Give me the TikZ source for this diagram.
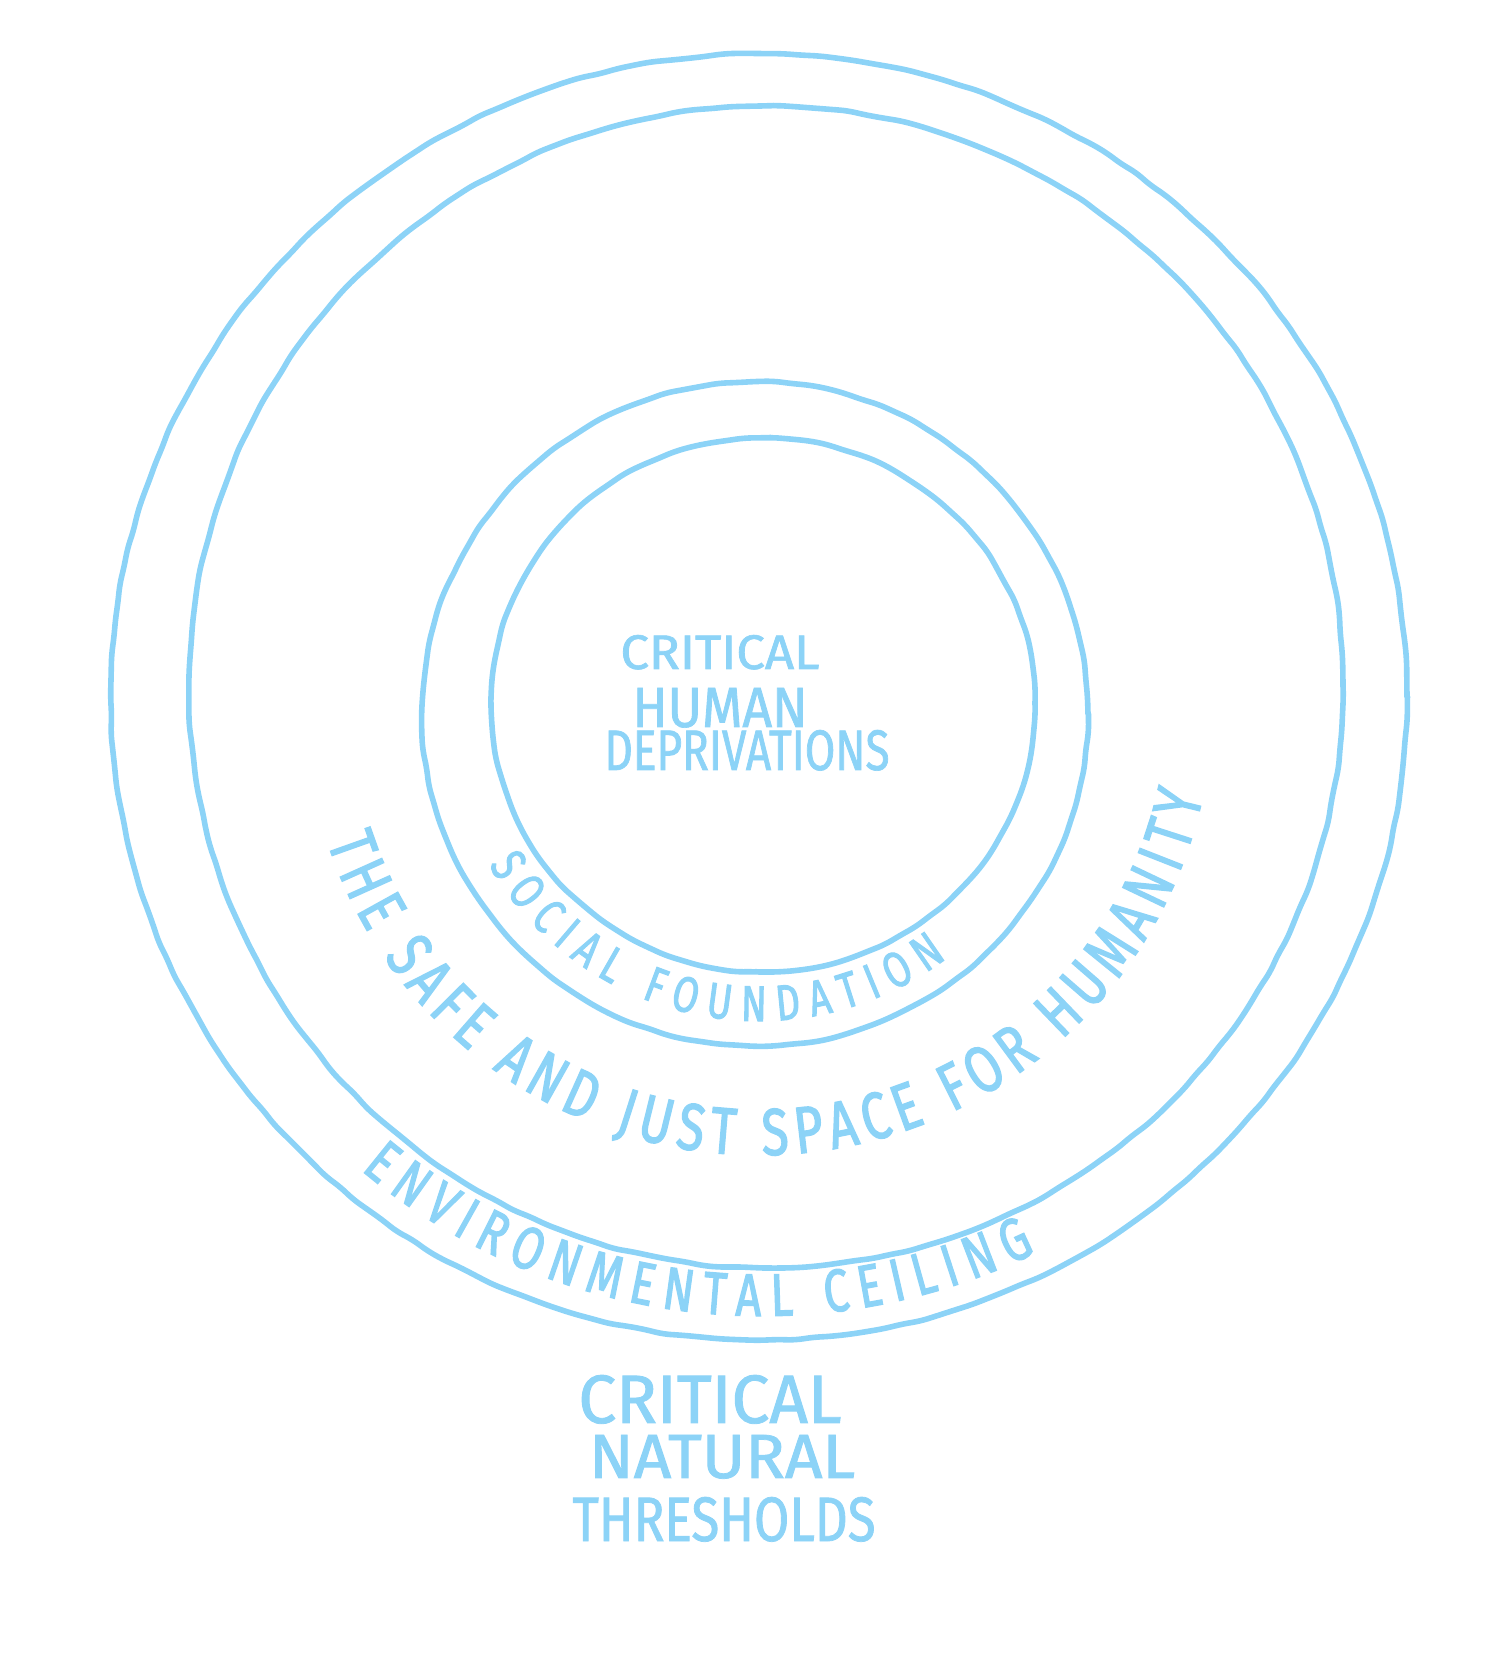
\documentclass[tikz,border=0pt]{standalone}
\usepackage{fontspec}
\usetikzlibrary{decorations.text,decorations.pathmorphing}
\newfontfamily\hand[FakeStretch=0.75,FakeBold=2]{Fira Sans}
\newfontfamily\handlight[FakeStretch=0.75,FakeBold=1.2]{Fira Sans}
\definecolor{sky}{RGB}{140,211,247}
\begin{document}
\begin{tikzpicture}[x=0.5pt,y=0.5pt,
  ring/.style={draw=sky, line width=2.8pt, line join=round, line cap=round,
    decorate, decoration={random steps, segment length=9pt, amplitude=0.45pt}, rounded corners=4pt},
  lbl/.style={text=sky, inner sep=0pt, anchor=base, font=\handlight}]
\useasboundingbox (0,0) rectangle (1500,1672);
\pgfmathsetseed{7}
% rings
\draw[ring] (759,975) ellipse [x radius=648, y radius=643];
\draw[ring] (766,985) ellipse [x radius=577, y radius=581];
\draw[ring] (755,958) ellipse [x radius=333, y radius=332];
\draw[ring] (763,967) ellipse [x radius=272, y radius=267];
% centre label
\node[lbl] (c1) at (720,1003) {\resizebox{99.5pt}{17pt}{CRITICAL}};
\node[lbl] (c2) at (720,945) {\resizebox{87.5pt}{19.5pt}{HUMAN}};
\node[lbl] (c3) at (747,902) {\resizebox{142.5pt}{20pt}{DEPRIVATIONS}};
% bottom label
\node[lbl] (b1) at (710,249) {\resizebox{131.5pt}{24pt}{CRITICAL}};
\node[lbl] (b2) at (722,194) {\resizebox{133pt}{21.5pt}{NATURAL}};
\node[lbl] (b3) at (724,131) {\resizebox{151.5pt}{22pt}{THRESHOLDS}};
% curved labels
\path[decorate, decoration={text along path,
  text={|\hand\fontsize{25pt}{25pt}\selectfont\color{sky}|SOCIAL FOUNDATION},
  text align={fit to path}}]
  (488.8,807) arc[start angle=210, end angle=307, radius=312];
\path[decorate, decoration={text along path,
  text={|\hand\fontsize{33pt}{33pt}\selectfont\color{sky}|THE SAFE AND JUST SPACE FOR HUMANITY},
  text align={fit to path}}]
  (327.2,830.7) arc[start angle=198, end angle=348, radius=454];
\path[decorate, decoration={text along path,
  text={|\hand\fontsize{30pt}{30pt}\selectfont\color{sky}|ENVIRONMENTAL CEILING},
  text align={fit to path}}]
  (360.9,502.0) arc[start angle=230, end angle=296, radius=624];
\end{tikzpicture}
\end{document}
